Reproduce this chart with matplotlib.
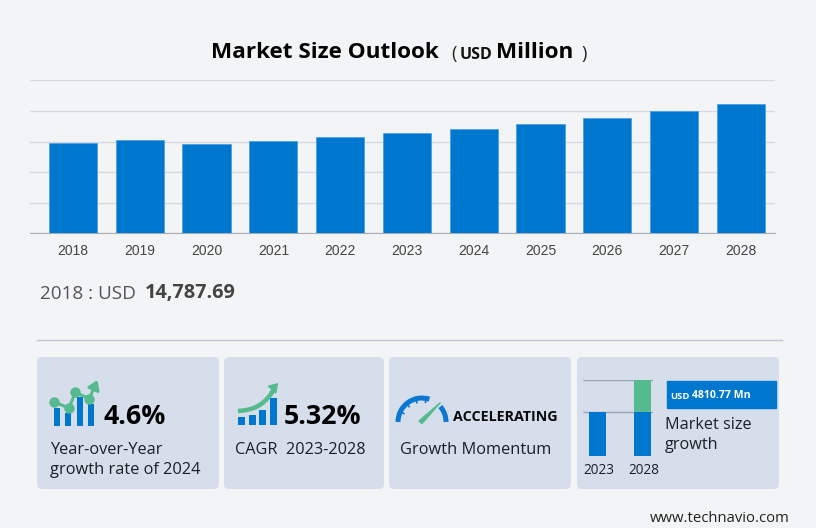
"""Market size outlook card: bar chart on top, four KPI tiles below."""
import matplotlib
matplotlib.use("Agg")
import matplotlib.pyplot as plt
import numpy as np
from matplotlib.patches import Arc, FancyArrowPatch, FancyBboxPatch

W, H = 816, 528
BG = "#f3f4f6"
CARD = "#d5deea"
BLUE = "#0077cf"
GREEN = "#55bb8f"
UI = ["Open Sans", "Noto Sans", "DejaVu Sans"]
ARIAL = ["Liberation Sans", "DejaVu Sans"]

years = [2018, 2019, 2020, 2021, 2022, 2023, 2024, 2025, 2026, 2027, 2028]
market_size = [14787.69, 15250, 14650, 15140, 15690, 16340, 17050, 17870, 18850, 19990, 21130]
y_ticks = [0, 5000, 10000, 15000, 20000, 25000]

# small icons in the tiles
yoy_bars = [18, 12.5, 28.5, 22]
yoy_line_x = [54, 69, 75.3, 89.3]
yoy_line_y = [402, 408, 392.3, 398.7]
cagr_bars = [8, 10.5, 15, 27]
mini_years = ["2023", "2028"]
mini_base = [44, 44]
mini_growth = [0, 32]
mini_lines = [44, 76]


def px_axes(x0, y0, x1, y1):
    return fig.add_axes([x0 / W, 1 - y1 / H, (x1 - x0) / W, (y1 - y0) / H])


fig = plt.figure(figsize=(W / 100, H / 100), dpi=100, facecolor=BG)

# ---- main chart ----
ax = px_axes(30, 80.3, 775, 233.3)
ax.set_facecolor("none")
xs = np.arange(len(years))
ax.bar(xs, market_size, width=0.723, color=BLUE, edgecolor="#4ba3e3", linewidth=0.6, zorder=3)
ax.set_xlim(-0.643, 10.51)
ax.set_ylim(0, 25000)
ax.set_yticks(y_ticks)
ax.set_xticks(xs, [str(y) for y in years], family=ARIAL, fontsize=10, color="#444444")
ax.tick_params(axis="x", length=0, pad=8)
ax.tick_params(axis="y", length=0, labelleft=False)
ax.grid(axis="y", color="#d8d9de", linewidth=1, zorder=0)
for s in ["top", "left", "right"]:
    ax.spines[s].set_visible(False)
ax.spines["bottom"].set_color("#a9adb5")

# ---- overlay in pixel coordinates for the rest ----
ov = px_axes(0, 0, W, H)
ov.set_xlim(0, W)
ov.set_ylim(H, 0)
ov.axis("off")
ov.patch.set_alpha(0)


def txt(x, y, s, size, weight="normal", color="#1c1f26", family=UI, ha="left"):
    ov.text(x, y, s, fontsize=size, fontweight=weight, color=color, family=family,
            ha=ha, va="center")


txt(211, 53, "Market Size Outlook", 16.2, "bold", "#050505")
txt(451, 54, "(", 13, color="#222222")
txt(460, 55, "USD", 11.5, "bold", "#111111")
txt(496, 53, "Million", 16.2, "bold", "#050505")
txt(581, 54, ")", 13, color="#222222")

txt(40, 294, "2018 : USD", 13.6, color="#555555")
txt(145, 293, "14,787.69", 14.3, "bold", "#444444")
ov.plot([37, 782], [340, 340], color="#c3c6d2", lw=1)

for x0, x1 in [(37, 219), (224, 384), (389, 571), (577, 779)]:
    ov.add_patch(FancyBboxPatch((x0 + 4, 361), x1 - x0 - 8, 124,
                                boxstyle="round,pad=4,rounding_size=5",
                                fc=CARD, ec="none"))

# tile 1
ov.bar([57, 68, 79.8, 91.3], [-v for v in yoy_bars], width=6.2, bottom=425.7, color=BLUE)
ov.plot(yoy_line_x, yoy_line_y, color=GREEN, lw=2.2, marker="o", ms=6.5, zorder=4)
ov.add_patch(FancyArrowPatch((89.3, 398.7), (97.5, 380), arrowstyle="-|>,head_width=3,head_length=4.5",
                             color=GREEN, lw=2.2, shrinkA=0, shrinkB=0, mutation_scale=1.2, zorder=4))
txt(104, 417, "4.6%", 19.3, "bold", "#000000")
txt(50, 450, "Year-over-Year", 11.8)
txt(50, 470, "growth rate of 2024", 11.8)

# tile 2
ov.bar([241.5, 252.2, 262.7, 273.3], [-v for v in cagr_bars], width=7, bottom=425, color=BLUE)
t = np.linspace(0, 1, 30)
ov.plot(238 + 36 * t, 411 - 3.5 * t - 18 * t ** 3, color=GREEN, lw=3.2, solid_capstyle="butt")
ov.add_patch(FancyArrowPatch((270, 392), (278, 383), arrowstyle="-|>,head_width=3,head_length=4.5",
                             color=GREEN, lw=1, shrinkA=0, shrinkB=0, mutation_scale=1.2))
txt(284, 417, "5.32%", 19.3, "bold", "#000000")
txt(235, 450, "CAGR  2023-2028", 11.7)

# tile 3
cx, cy, r = 422, 422, 24
ov.add_patch(Arc((cx, cy), 2 * r, 2 * r, theta1=180, theta2=288, color="#0a78d0", lw=3.6))
ov.add_patch(Arc((cx, cy), 2 * r, 2 * r, theta1=320, theta2=360, color="#0a78d0", lw=3.6))
for a in np.radians([155, 130, 105, 80]):
    ov.plot([cx + (r - 4) * np.cos(a), cx + (r - 1) * np.cos(a)],
            [cy - (r - 4) * np.sin(a), cy - (r - 1) * np.sin(a)], color="#0a78d0", lw=1.2)
ov.fill([419, 422, 440.5], [421, 423.5, 402.5], color=GREEN)
txt(453, 417, "ACCELERATING", 10.3, "bold", "#0a0a0a")
txt(400, 450, "Growth Momentum", 11.8)

# tile 4
mini = px_axes(582.7, 380.3, 653, 456.3)
mini.patch.set_alpha(0)
mini.axis("off")
mini.set_xlim(582.7, 653)
mini.set_ylim(0, 76)
mini.hlines(mini_lines, 582.7, 653, color="#9aa5b1", lw=1)
mini_x = [597.8, 642.8]
mini.bar(mini_x, mini_base, width=17, color=BLUE, zorder=3)
mini.bar(mini_x, mini_growth, width=17, bottom=mini_base, color=GREEN, zorder=3)
txt(599, 471, mini_years[0], 9.8, ha="center")
txt(644, 471, mini_years[1], 9.8, ha="center")
ov.fill([667, 776, 776, 667], [381, 381, 408, 408], color=BLUE)
txt(670, 396.5, "USD", 6.8, "bold", "white")
txt(692, 396, "4810.77 Mn", 7.6, "bold", "white")
txt(665, 425, "Market size", 11.7)
txt(665, 445, "growth", 11.7)

txt(650, 518, "www.technavio.com", 10.7, color="#222222")

fig.savefig("out.png", dpi=100, facecolor=BG)
